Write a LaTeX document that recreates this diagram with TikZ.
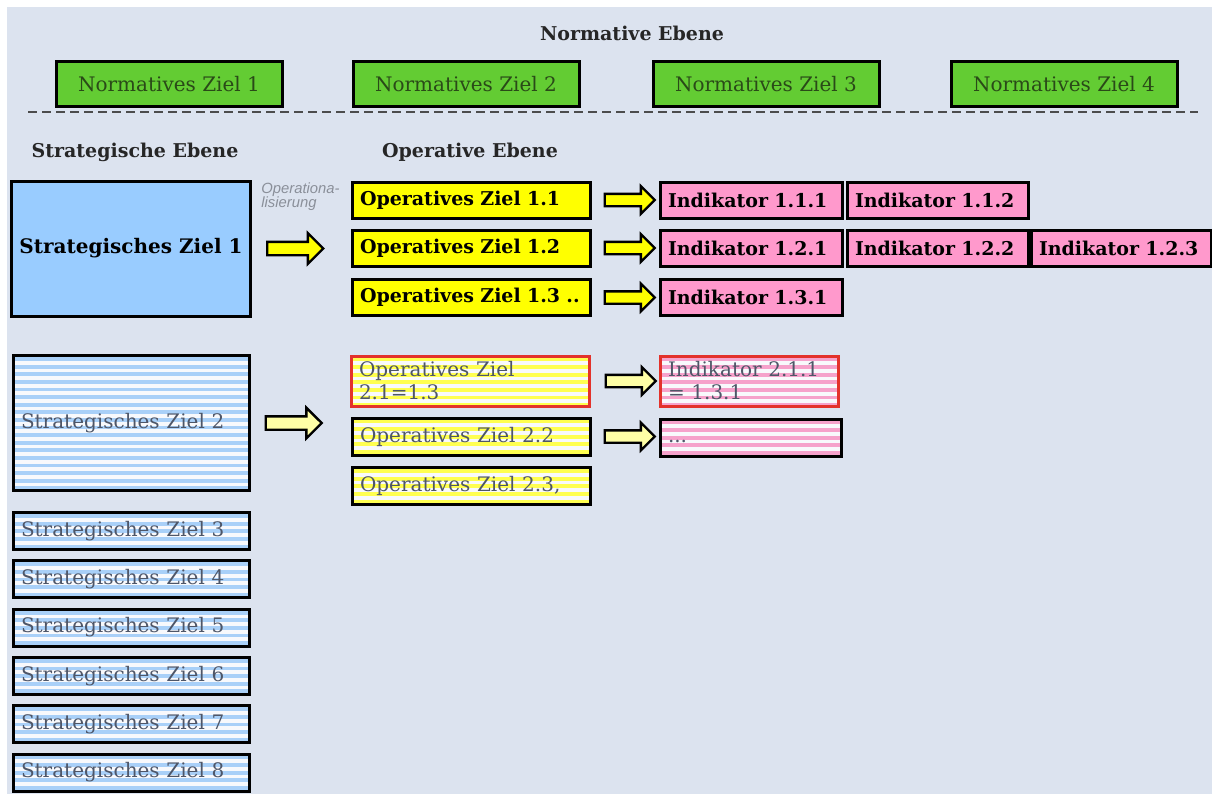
\documentclass[tikz,border=0pt]{standalone}
\usepackage{fontspec}
\setmainfont{DejaVu Serif}
\setsansfont{Liberation Sans}
\usetikzlibrary{shapes.arrows,calc}

\definecolor{bgblue}{HTML}{DCE3EF}
\definecolor{normgreen}{HTML}{63CC33}
\definecolor{normtext}{HTML}{2A4A18}
\definecolor{stratblue}{HTML}{99CCFF}
\definecolor{stripeblue}{HTML}{A9D0F8}
\definecolor{opyellow}{HTML}{FFFF00}
\definecolor{stripeyellow}{HTML}{FFFF50}
\definecolor{indpink}{HTML}{FF99CC}
\definecolor{stripepink}{HTML}{F6A2CB}
\definecolor{markred}{HTML}{E3322B}
\definecolor{fadetext}{HTML}{4E5668}
\definecolor{notegray}{HTML}{8A8F99}

\begin{document}
\begin{tikzpicture}[x=0.5pt, y=-0.5pt,
    title/.style={font=\fontsize{9.5}{11}\selectfont\bfseries, text=black!85},
    box/.style={draw, line width=1.5pt, inner xsep=4pt, inner ysep=0pt, font=\fontsize{10}{11.5}\selectfont},
    boldbox/.style={box, font=\fontsize{9.5}{11}\selectfont\bfseries},
    striped/.style={fill=white!80!bgblue, path picture={
        \foreach \k in {0,...,17}
            \fill[#1] ([yshift=-\k*3.8pt-0.8pt]path picture bounding box.north west) rectangle ++(130pt,-1.9pt);
    }},
    normbox/.style={box, fill=normgreen, text=normtext, minimum width=113pt, minimum height=22.5pt},
    stratbox/.style={boldbox, fill=stratblue, font=\fontsize{10}{11.5}\selectfont\bfseries, minimum width=118pt, minimum height=67.5pt},
    stratfade/.style={box, striped=stripeblue, text=fadetext, text width=110pt, align=left, minimum height=#1},
    opbox/.style={boldbox, fill=opyellow, text width=111pt, align=left, minimum height=18pt},
    opfade/.style={box, striped=stripeyellow, text=fadetext, text width=111pt, align=left, minimum height=18.5pt},
    indbox/.style={boldbox, fill=indpink, text width=#1, align=left, minimum height=18pt},
    indfade/.style={box, striped=stripepink, text=fadetext, text width=#1, align=left, minimum height=18.5pt},
    marked/.style={draw=markred},
    bigarrow/.style={single arrow, draw, line width=1.2pt, fill=opyellow, inner sep=0pt, anchor=west,
        text height=5.5pt, text depth=0pt, minimum height=28pt, single arrow head extend=4.3pt},
    smallarrow/.style={bigarrow, text height=5pt, minimum height=25pt, single arrow head extend=3.8pt},
    fadearrow/.style={fill=opyellow!35!white},
    note/.style={font=\fontsize{7.4}{7.4}\selectfont\sffamily\itshape, text=notegray, align=left, inner sep=0pt}
]
    % Background
    \useasboundingbox (0,0) rectangle (1212,794);
    \fill[white] (0,0) rectangle (1212,794);
    \fill[bgblue] (7,7) rectangle (1212,794);

    % Normative Ebene
    \node[title] (normtitle) at (632,33) {Normative Ebene};
    \foreach \i/\x in {1/169,2/466,3/766,4/1064}
        \node[normbox] (n\i) at (\x,84) {Normatives Ziel \i};
    \draw[line width=1pt, black!70, dash pattern=on 4.5pt off 2.5pt] (28,112) -- (1198,112);

    % Ebenen
    \node[title] (strattitle) at (135,152) {Strategische Ebene};
    \node[title] (optitle) at (470,152) {Operative Ebene};

    % Strategisches Ziel 1
    \node[stratbox] (s1) at (131,248.5) {Strategisches Ziel 1};
    \node[note, anchor=north west] (oplabel) at (261,182) {Operationa-\\lisierung};
    \node[bigarrow] (a1) at ($(s1.east)+(14,0)$) {};

    \node[opbox] (o11) at (471,200) {Operatives Ziel 1.1};
    \node[opbox] (o12) at (471,248) {Operatives Ziel 1.2};
    \node[opbox] (o13) at (471,297.5) {Operatives Ziel 1.3~..};

    \node[smallarrow] (a11) at ($(o11.east)+(12,0)$) {};
    \node[smallarrow] (a12) at ($(o12.east)+(12,0)$) {};
    \node[smallarrow] (a13) at ($(o13.east)+(12,0)$) {};

    \node[indbox=83pt] (i111) at (751,200) {Indikator 1.1.1};
    \node[indbox=82.5pt] (i112) at (937.5,200) {Indikator 1.1.2};
    \node[indbox=83pt] (i121) at (751,248) {Indikator 1.2.1};
    \node[indbox=82.5pt] (i122) at (937.5,248) {Indikator 1.2.2};
    \node[indbox=82pt] (i123) at (1121,248) {Indikator 1.2.3};
    \node[indbox=83pt] (i131) at (751,297.5) {Indikator 1.3.1};

    % Strategisches Ziel 2
    \node[stratfade=67.5pt] (s2) at (131,423) {Strategisches Ziel 2};
    \node[bigarrow, fadearrow] (a2) at ($(s2.east)+(14,0)$) {};

    \node[opfade, marked, minimum height=25pt] (o21) at (470,381) {Operatives Ziel\\2.1=1.3};
    \node[opfade] (o22) at (471,436.5) {Operatives Ziel 2.2};
    \node[opfade] (o23) at (471,486) {Operatives Ziel 2.3,};

    \node[smallarrow, fadearrow] (a21) at ($(o21.east)+(14,0)$) {};
    \node[smallarrow, fadearrow] (a22) at ($(o22.east)+(12,0)$) {};

    \node[indfade=81pt, marked, minimum height=25pt] (i211) at (749,381) {Indikator 2.1.1\\= 1.3.1};
    \node[indfade=82.5pt] (i2x) at (750.5,437.5) {\raisebox{-5pt}{...}};

    % Strategische Ziele 3 bis 8
    \foreach \i in {3,...,8} {
        \pgfmathsetmacro{\y}{531+(\i-3)*48.3}
        \node[stratfade=18.5pt] (s\i) at (131,\y) {Strategisches Ziel \i};
    }
\end{tikzpicture}
\end{document}
